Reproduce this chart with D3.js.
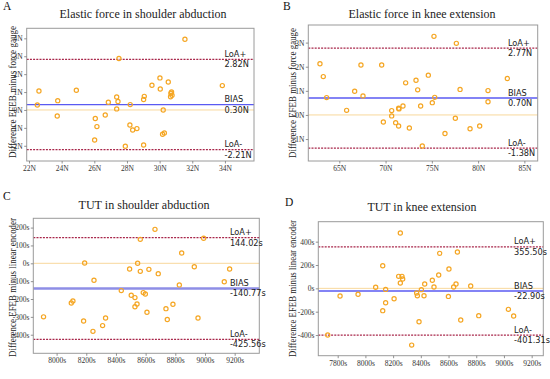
<!DOCTYPE html>
<html>
<head>
<meta charset="utf-8">
<script src="https://cdn.jsdelivr.net/npm/d3@7.9.0/dist/d3.min.js"></script>
<style>
  body { margin: 0; background: #fff; }
</style>
</head>
<body>
<div id="chart"></div>
<script>
// A: elastic force, shoulder abduction (N)
const aMean = [22.51, 22.61, 23.76, 23.73, 24.90, 26.02, 26.06, 26.16, 26.67, 26.86, 27.37, 27.37,
  27.45, 27.51, 27.90, 28.18, 28.20, 28.35, 28.61, 29.02, 29.02, 29.06, 29.53, 30.02, 30.04, 30.18,
  30.22, 30.29, 30.53, 30.67, 30.69, 30.73, 30.76, 31.55, 33.84];
const aDiff = [0.28, 1.06, 0.52, -0.34, 1.10, -1.68, -0.48, -0.93, -0.28, 0.43, 0.73, 0.06,
  0.47, 2.87, -2.03, -0.84, 0.30, -1.12, -1.04, -1.96, 0.58, 0.76, 1.38, 1.79, 1.17, -1.36,
  0.0, -1.28, 1.56, 0.74, 0.93, 1.0, 0.82, 3.95, 1.36];
const aLimits = [2.82, 0.30, -2.21];
const aXTicks = [22, 24, 26, 28, 30, 32, 34];
const aXLabels = ["22N", "24N", "26N", "28N", "30N", "32N", "34N"];
const aYTicks = [4, 3, 2, 1, 0, -1, -2];
const aYLabels = ["4N", "3N", "2N", "1N", "-0N", "-1N", "-2N"];

// B: elastic force, knee extension (N)
const bMean = [62.91, 63.27, 63.63, 65.79, 66.66, 67.34, 67.56, 69.58, 69.76, 70.66, 70.66, 71.09,
  71.41, 71.45, 71.41, 71.88, 72.17, 72.57, 73.29, 73.47, 73.79, 73.97, 74.62, 75.05, 75.23, 75.31,
  76.42, 77.54, 77.65, 78.05, 79.13, 80.17, 81.07, 81.07, 83.16];
const bDiff = [2.12, 1.59, 0.72, 0.19, 0.98, 2.07, 0.79, 2.07, -0.29, 0.18, -0.04, -0.32,
  0.28, 0.25, -0.46, 0.37, 1.33, -0.54, 1.44, 1.04, 0.37, -1.29, 1.65, 0.51, 3.26, 0.73,
  -0.77, -0.14, 2.97, 1.06, -0.57, -0.46, 1.01, 0.55, 1.51];
const bLimits = [2.77, 0.70, -1.38];
const bXTicks = [65, 70, 75, 80, 85];
const bXLabels = ["65N", "70N", "75N", "80N", "85N"];
const bYTicks = [3, 2, 1, 0, -1];
const bYLabels = ["3N", "2N", "1N", "-0N", "-1N"];

// C: TUT, shoulder abduction (s)
const cMean = [7912, 8099, 8110, 8182, 8189, 8245, 8252, 8310, 8330, 8436, 8492, 8503, 8528, 8528,
  8542, 8546, 8564, 8564, 8584, 8598, 8609, 8622, 8663, 8685, 8737, 8746, 8784, 8827, 8843, 8928,
  8953, 8991, 9130, 9166];
const cDiff = [-300, -222, -211, -323, 2, -381, -95, -349, -306, -153, -32, -179, -192, -243,
  -228, 0, 134, -45, -164, -172, -274, -34, 190, -58, -254, -315, -229, -121, 58, -19,
  -306, 140, -103, -32];
const cLimits = [144.02, -140.77, -425.56];
const cXTicks = [8000, 8200, 8400, 8600, 8800, 9000, 9200];
const cXLabels = ["8000s", "8200s", "8400s", "8600s", "8800s", "9000s", "9200s"];
const cYTicks = [200, 100, 0, -100, -200, -300, -400];
const cYLabels = ["200s", "100s", "0s", "-100s", "-200s", "-300s", "-400s"];

// D: TUT, knee extension (s)
const dMean = [7728, 7817, 7947, 8074, 8125, 8125, 8146, 8146, 8207, 8240, 8252, 8252, 8264, 8269,
  8334, 8370, 8375, 8387, 8404, 8423, 8428, 8483, 8495, 8529, 8536, 8599, 8603, 8637, 8654, 8664,
  8688, 8760, 8818, 9032, 9070];
const dDiff = [-400, -66, -51, 9, 194, -191, -9, -123, -89, 103, 46, 474, 103, 80,
  -486, -40, -63, -286, -11, -63, 37, 69, 11, 114, 300, -69, 166, 11, 37, 311,
  -271, 20, -234, -180, -237];
const dLimits = [355.50, -22.90, -401.31];
const dXTicks = [7800, 8000, 8200, 8400, 8600, 8800, 9000, 9200];
const dXLabels = ["7800s", "8000s", "8200s", "8400s", "8600s", "8800s", "9000s", "9200s"];
const dYTicks = [400, 200, 0, -200, -400];
const dYLabels = ["400s", "200s", "0s", "-200s", "-400s"];

const width = 550;
const height = 379;

const svg = d3.select('#chart')
  .append('svg')
  .attr('width', width)
  .attr('height', height)
  .attr('viewBox', `0 0 ${width} ${height}`);

const serif = '"Liberation Serif", "Times New Roman", serif';
const sans = '"DejaVu Sans", sans-serif';

const panels = [
  { letter: "A", title: "Elastic force in shoulder abduction", ylab: "Difference EFEB minus force gauge",
    mean: aMean, diff: aDiff, limits: aLimits, unit: "N",
    xTicks: aXTicks, xLabels: aXLabels, yTicks: aYTicks, yLabels: aYLabels,
    xDomain: [21.86, 35.78], yDomain: [-2.85, 4.56],
    box: { l: 26.7, r: 254, t: 28.3, b: 161 },
    letterPos: [3, 10], titlePos: [143, 17.5, 167], ylabPos: [15.5, 92, 132], xlabPos: [139, 181, 114],
    biasColor: "#5a5af2", biasWidth: 1.4 },
  { letter: "B", title: "Elastic force in knee extension", ylab: "Difference EFEB minus force gauge",
    mean: bMean, diff: bDiff, limits: bLimits, unit: "N",
    xTicks: bXTicks, xLabels: bXLabels, yTicks: bYTicks, yLabels: bYLabels,
    xDomain: [61.65, 86.44], yDomain: [-1.91, 3.73],
    box: { l: 308.3, r: 537.7, t: 25, b: 161 },
    letterPos: [283, 10], titlePos: [422, 17.5, 147], ylabPos: [295.5, 93, 130], xlabPos: [418, 181, 114],
    biasColor: "#5a5af2", biasWidth: 1.4 },
  { letter: "C", title: "TUT in shoulder abduction", ylab: "Difference EFEB minus linear encoder",
    mean: cMean, diff: cDiff, limits: cLimits, unit: "s",
    xTicks: cXTicks, xLabels: cXLabels, yTicks: cYTicks, yLabels: cYLabels,
    xDomain: [7843, 9366], yDomain: [-504, 252],
    box: { l: 33.3, r: 259.3, t: 218.3, b: 353.3 },
    letterPos: [3, 200], titlePos: [144, 208.5, 131], ylabPos: [15.5, 287.5, 139], xlabPos: [140, 373, 117],
    biasColor: "#8e8ee6", biasWidth: 2.6 },
  { letter: "D", title: "TUT in knee extension", ylab: "Difference EFEB minus linear encoder",
    mean: dMean, diff: dDiff, limits: dLimits, unit: "s",
    xTicks: dXTicks, xLabels: dXLabels, yTicks: dYTicks, yLabels: dYLabels,
    xDomain: [7660, 9284], yDomain: [-577, 571],
    box: { l: 318.3, r: 543.3, t: 221.7, b: 355.7 },
    letterPos: [285, 205.5], titlePos: [422, 211, 109], ylabPos: [295.5, 288.5, 137], xlabPos: [431, 375, 114],
    biasColor: "#5a5af2", biasWidth: 1.4 }
];

function stretchText(g, str, x, y, size, len, rotate) {
  const t = g.append("text")
    .attr("font-family", serif)
    .attr("font-size", size)
    .attr("fill", "#222")
    .attr("text-anchor", "middle")
    .attr("textLength", len)
    .attr("lengthAdjust", "spacingAndGlyphs")
    .text(str);
  if (rotate) t.attr("transform", `translate(${x},${y}) rotate(-90)`);
  else t.attr("x", x).attr("y", y);
  return t;
}

panels.forEach(p => {
  const g = svg.append("g");
  const x = d3.scaleLinear().domain(p.xDomain).range([p.box.l, p.box.r]);
  const y = d3.scaleLinear().domain(p.yDomain).range([p.box.b, p.box.t]);

  // zero reference
  g.append("line")
    .attr("x1", p.box.l).attr("x2", p.box.r)
    .attr("y1", y(0)).attr("y2", y(0))
    .attr("stroke", "#f8d89c").attr("stroke-width", 1);

  // bias
  g.append("line")
    .attr("x1", p.box.l).attr("x2", p.box.r)
    .attr("y1", y(p.limits[1])).attr("y2", y(p.limits[1]))
    .attr("stroke", p.biasColor).attr("stroke-width", p.biasWidth);

  // limits of agreement
  [p.limits[0], p.limits[2]].forEach(v => {
    g.append("line")
      .attr("x1", p.box.l).attr("x2", p.box.r)
      .attr("y1", y(v)).attr("y2", y(v))
      .attr("stroke", "#a8264a").attr("stroke-width", 1.2)
      .attr("stroke-dasharray", "2,1.2");
  });

  g.selectAll("circle")
    .data(p.mean.map((m, i) => [m, p.diff[i]]))
    .join("circle")
    .attr("cx", d => x(d[0]))
    .attr("cy", d => y(d[1]))
    .attr("r", 2.1)
    .attr("fill", "none")
    .attr("stroke", "#f5a623")
    .attr("stroke-width", 1.2);

  // frame
  g.append("rect")
    .attr("x", p.box.l).attr("y", p.box.t)
    .attr("width", p.box.r - p.box.l).attr("height", p.box.b - p.box.t)
    .attr("fill", "none").attr("stroke", "#9a9a9a").attr("stroke-width", 1);

  const yAxis = g.append("g")
    .attr("transform", `translate(${p.box.l},0)`)
    .call(d3.axisLeft(y).tickValues(p.yTicks).tickFormat((d, i) => p.yLabels[i]).tickSize(2.5).tickPadding(1.5));
  const xAxis = g.append("g")
    .attr("transform", `translate(0,${p.box.b})`)
    .call(d3.axisBottom(x).tickValues(p.xTicks).tickFormat((d, i) => p.xLabels[i]).tickSize(2.5).tickPadding(2));
  [yAxis, xAxis].forEach(a => {
    a.select(".domain").remove();
    a.selectAll(".tick line").attr("stroke", "#777").attr("stroke-width", 0.8);
    a.selectAll(".tick text")
      .attr("font-family", serif)
      .attr("font-size", 7.5)
      .attr("fill", "#333");
  });

  // annotations
  const tx = p.box.l + 0.87 * (p.box.r - p.box.l);
  const names = ["LoA+", "BIAS", "LoA-"];
  p.limits.forEach((v, i) => {
    g.append("text")
      .attr("x", tx).attr("y", y(v) - 2.5)
      .attr("font-family", sans).attr("font-size", 8.2).attr("fill", "#222")
      .text(names[i]);
    g.append("text")
      .attr("x", tx).attr("y", y(v) + 8)
      .attr("font-family", sans).attr("font-size", 8.2).attr("fill", "#222")
      .text(v.toFixed(2) + p.unit);
  });

  g.append("text")
    .attr("x", p.letterPos[0]).attr("y", p.letterPos[1])
    .attr("font-family", serif).attr("font-size", 11.5).attr("fill", "#111")
    .text(p.letter);

  stretchText(g, p.title, p.titlePos[0], p.titlePos[1], 12.5, p.titlePos[2], false);
  stretchText(g, p.xlab, p.xlabPos[0], p.xlabPos[1], 11, p.xlabPos[2], false);
  stretchText(g, p.ylab, p.ylabPos[0], p.ylabPos[1], 10.5, p.ylabPos[2], true);
});
</script>
</body>
</html>
